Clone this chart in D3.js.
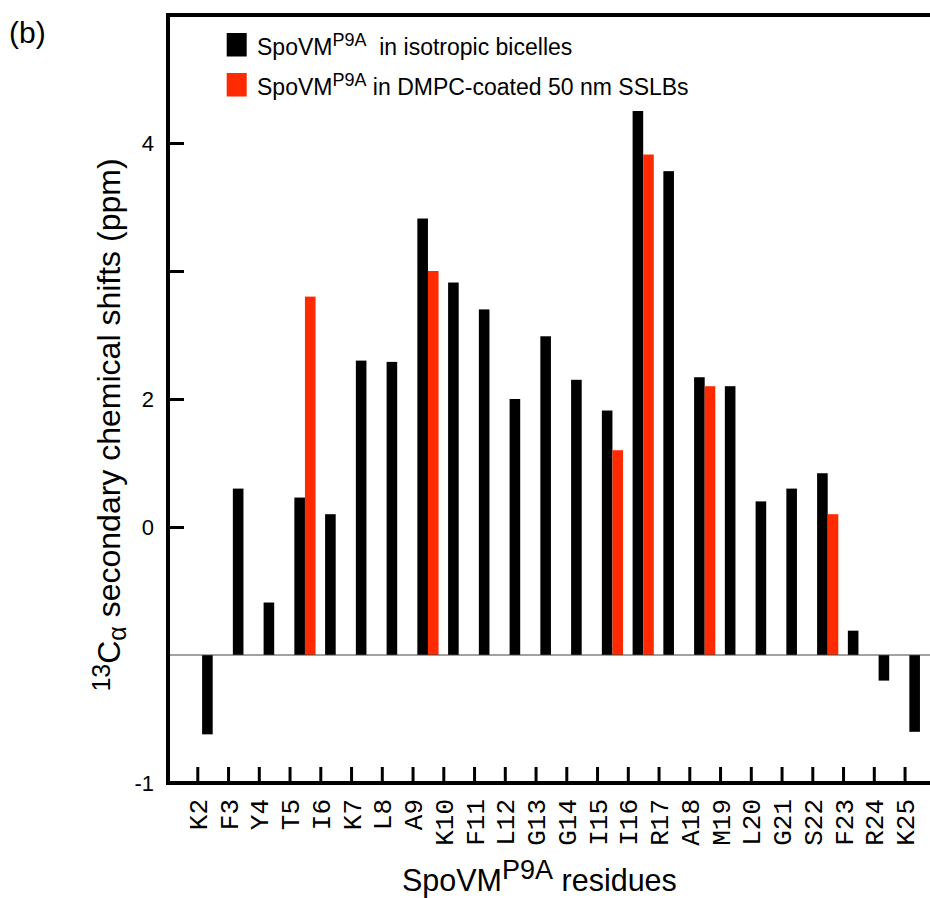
<!DOCTYPE html>
<html>
<head>
<meta charset="utf-8">
<script src="https://cdn.jsdelivr.net/npm/d3@7"></script>
<style>
  body { margin: 0; background: #fff; }
  svg { display: block; font-family: "Liberation Sans", Arial, sans-serif; }
</style>
</head>
<body>
<div id="chart"></div>
<script>
// residues along the x axis
const residues = ["K2", "F3", "Y4", "T5", "I6", "K7", "L8", "A9", "K10", "F11", "L12", "G13",
  "G14", "I15", "I16", "R17", "A18", "M19", "L20", "G21", "S22", "F23", "R24", "K25"];

// secondary shifts, measured from the zero line
const bicelles = [-0.62, 1.30, 0.41, 1.23, 1.10, 2.30, 2.29, 3.41, 2.91, 2.70, 2.00, 2.49,
  2.15, 1.91, 4.25, 3.78, 2.17, 2.10, 1.20, 1.30, 1.42, 0.19, -0.20, -0.60];
const sslbs = [null, null, null, 2.80, null, null, null, 3.00, null, null, null, null,
  null, 1.60, 3.91, null, 2.10, null, null, null, 1.10, null, null, null];

// y ticks and the labels printed next to them
const yTicks = [4, 3, 2, 1, -1];
const yTickLabels = ["4", "", "2", "0", "-1"];

const seriesNames = ["bicelles", "sslbs"];
const colors = {bicelles: "#000000", sslbs: "#ff2a00"};

const width = 930, height = 898;

const svg = d3.select("#chart")
  .append("svg")
    .attr("width", width)
    .attr("height", height)
    .attr("viewBox", [0, 0, width, height]);

const x = d3.scaleBand()
  .domain(residues)
  .range([197.3, 197.3 + residues.length * 30.75])
  .padding(0);

const xInner = d3.scaleBand()
  .domain(seriesNames)
  .range([4.8, 26]);

// tick positions sit at the start of each band
const xTick = d3.scalePoint()
  .domain(residues)
  .range([x(residues[0]), x(residues[residues.length - 1])]);

const y = d3.scaleLinear()
  .domain([-1, 5])
  .range([783, 15]);

const left = 168, right = 930;

// bars
const rows = residues.map((r, i) => ({residue: r, bicelles: bicelles[i], sslbs: sslbs[i]}));

svg.append("g")
  .selectAll("g")
  .data(rows)
  .join("g")
    .attr("transform", d => `translate(${x(d.residue)},0)`)
  .selectAll("rect")
  .data(d => seriesNames.filter(k => d[k] != null).map(k => ({key: k, value: d[k]})))
  .join("rect")
    .attr("x", d => xInner(d.key))
    .attr("width", xInner.bandwidth())
    .attr("y", d => Math.min(y(0), y(d.value)))
    .attr("height", d => Math.abs(y(d.value) - y(0)))
    .attr("fill", d => colors[d.key]);

// zero line
svg.append("line")
  .attr("x1", left).attr("x2", right)
  .attr("y1", y(0)).attr("y2", y(0))
  .attr("stroke", "#444")
  .attr("stroke-width", 1.2);

// y axis
const yAxis = svg.append("g")
  .attr("transform", `translate(${left},0)`)
  .call(d3.axisLeft(y)
    .tickValues(yTicks)
    .tickFormat((d, i) => yTickLabels[i])
    .tickSizeInner(-16)
    .tickSizeOuter(0)
    .tickPadding(14));
yAxis.select(".domain").remove();
yAxis.selectAll(".tick line").attr("stroke-width", 3);
yAxis.selectAll(".tick text")
  .attr("font-size", 22)
  .attr("font-family", "Liberation Sans, Arial, sans-serif")
  .attr("fill", "#000");

// x axis, ticks point up into the plot
const xAxis = svg.append("g")
  .attr("transform", `translate(0,${y(-1)})`)
  .call(d3.axisBottom(xTick)
    .tickSizeInner(-16)
    .tickSizeOuter(0));
xAxis.select(".domain").remove();
xAxis.selectAll(".tick line").attr("stroke-width", 3);
xAxis.selectAll(".tick text")
  .attr("transform", "rotate(-90)")
  .attr("text-anchor", "end")
  .attr("x", -16)
  .attr("y", 0)
  .attr("dy", "0.35em")
  .attr("font-size", 26)
  .attr("font-family", "Liberation Mono, Courier New, monospace")
  .attr("fill", "#000");

// frame: left, top, bottom
const frame = svg.append("g").attr("stroke", "#000").attr("stroke-width", 4);
frame.append("line").attr("x1", left).attr("x2", left).attr("y1", y(5) - 2).attr("y2", y(-1) + 2);
frame.append("line").attr("x1", left - 2).attr("x2", right).attr("y1", y(5)).attr("y2", y(5));
frame.append("line").attr("x1", left - 2).attr("x2", right).attr("y1", y(-1)).attr("y2", y(-1));

// panel label
svg.append("text")
  .attr("x", 9)
  .attr("y", 43)
  .attr("font-size", 30)
  .text("(b)");

// legend
const legendItems = [
  {key: "bicelles", tail: "\u00a0\u00a0in isotropic bicelles", y: 55},
  {key: "sslbs", tail: "\u00a0in DMPC-coated 50 nm SSLBs", y: 95}
];
const legend = svg.append("g");
legend.selectAll("rect")
  .data(legendItems)
  .join("rect")
    .attr("x", 226.7)
    .attr("y", d => d.y - 22)
    .attr("width", 20)
    .attr("height", 23.5)
    .attr("fill", d => colors[d.key]);
const legendText = legend.selectAll("text")
  .data(legendItems)
  .join("text")
    .attr("x", 257)
    .attr("y", d => d.y)
    .attr("font-size", 23);
legendText.append("tspan").text("SpoVM");
legendText.append("tspan").attr("dy", -9).attr("font-size", 18).text("P9A");
legendText.append("tspan").attr("dy", 9).text(d => d.tail);

// x axis title
const xTitle = svg.append("text")
  .attr("x", 402)
  .attr("y", 891)
  .attr("font-size", 30.5);
xTitle.append("tspan").text("SpoVM");
xTitle.append("tspan").attr("dy", -12).attr("font-size", 27).text("P9A");
xTitle.append("tspan").attr("dy", 12).text(" residues");

// y axis title
const yTitle = svg.append("text")
  .attr("transform", "translate(120,425) rotate(-90)")
  .attr("text-anchor", "middle")
  .attr("font-size", 32);
yTitle.append("tspan").attr("dy", -10).attr("font-size", 25).text("13");
yTitle.append("tspan").attr("dy", 10).text("C");
yTitle.append("tspan").attr("dy", 6).attr("font-size", 25).text("\u03b1");
yTitle.append("tspan").attr("dy", -6).text(" secondary chemical shifts (ppm)");
</script>
</body>
</html>
